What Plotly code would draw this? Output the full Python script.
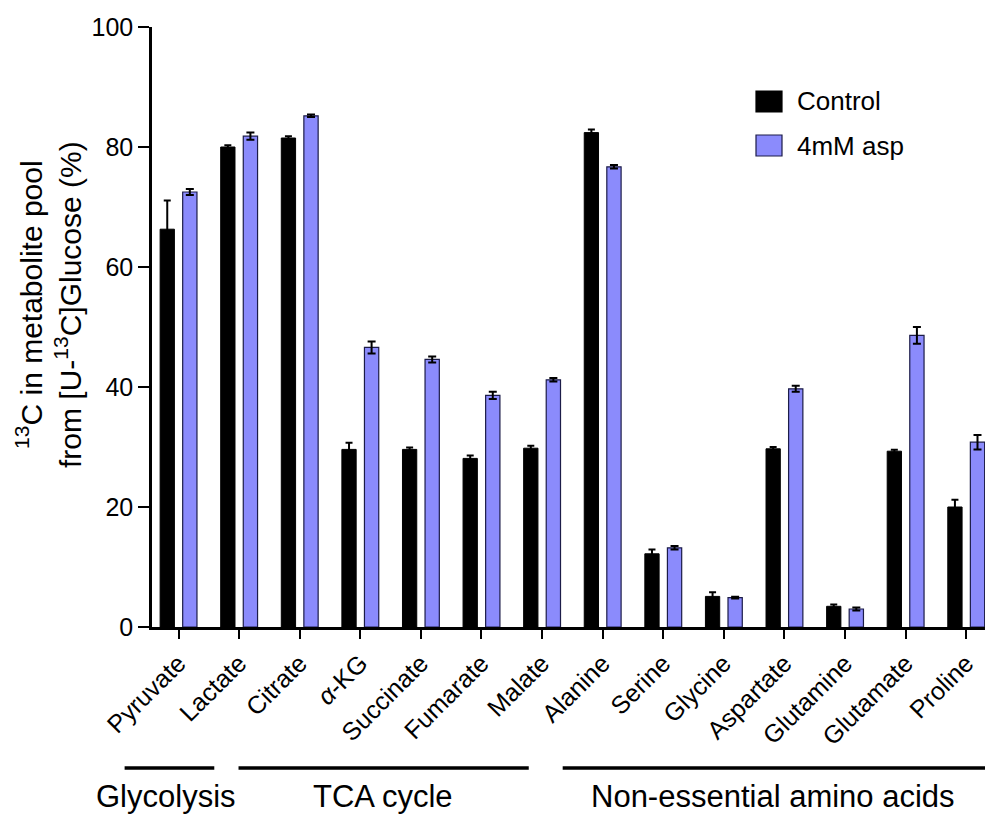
import plotly.graph_objects as go

# Metabolites measured
categories = ["Pyruvate", "Lactate", "Citrate", "<i>α</i>-KG", "Succinate", "Fumarate",
              "Malate", "Alanine", "Serine", "Glycine", "Aspartate", "Glutamine",
              "Glutamate", "Proline"]

# 13C enrichment (%) and SEM
control = [66.3, 80.0, 81.5, 29.6, 29.6, 28.1, 29.8, 82.4, 12.2, 5.1, 29.7, 3.45, 29.3, 20.0]
control_err = [4.8, 0.3, 0.3, 1.1, 0.3, 0.5, 0.4, 0.5, 0.7, 0.7, 0.3, 0.3, 0.25, 1.2]
asp = [72.5, 81.8, 85.2, 46.6, 44.6, 38.6, 41.2, 76.7, 13.2, 4.9, 39.7, 3.0, 48.6, 30.8]
asp_err = [0.5, 0.6, 0.2, 1.0, 0.5, 0.6, 0.3, 0.3, 0.3, 0.15, 0.5, 0.25, 1.4, 1.2]

# Pathway groups: label, span of the underline and label centre along the category axis
group_labels = ["Glycolysis", "TCA cycle", "Non-essential amino acids"]
group_spans = [(-0.89, 0.59), (0.99, 5.78), (6.34, 13.70)]
group_centres = [-0.2, 3.38, 9.81]

y_ticks = [0, 20, 40, 60, 80, 100]

FONT = "Arial, Liberation Sans, sans-serif"
BLUE = "#8B8BFC"
W, H = 985, 816
L, R, T, B = 152, 0, 27, 189
X_RANGE = [-0.438, 13.31]
PW, PH = W - L - R, H - T - B

x = list(range(len(categories)))

fig = go.Figure()
fig.add_trace(go.Bar(
    x=x, y=control, name="Control",
    marker=dict(color="black", line=dict(color="black", width=1)),
    error_y=dict(type="data", array=control_err, color="black", thickness=2, width=3.5),
    showlegend=False,
))
fig.add_trace(go.Bar(
    x=x, y=asp, name="4mM asp",
    marker=dict(color=BLUE, line=dict(color="#1c1c48", width=1.2)),
    error_y=dict(type="data", array=asp_err, color="black", thickness=2, width=4),
    showlegend=False,
))


def xpaper_px(px):
    return (px - L) / PW


def ypaper_px(py):
    return (H - B - py) / PH


def xpaper_data(v):
    return (v - X_RANGE[0]) / (X_RANGE[1] - X_RANGE[0])


shapes = []
annotations = []

# Pathway group bars and labels beneath the category labels
for label, (a, b), mid in zip(group_labels, group_spans, group_centres):
    shapes.append(dict(type="line", xref="paper", yref="paper",
                       x0=xpaper_data(a), x1=xpaper_data(b),
                       y0=ypaper_px(768), y1=ypaper_px(768),
                       line=dict(color="black", width=3.5)))
    annotations.append(dict(text=label, xref="paper", yref="paper",
                            x=xpaper_data(mid), y=ypaper_px(797),
                            xanchor="center", yanchor="middle", showarrow=False,
                            font=dict(family=FONT, size=31, color="black")))

# Legend drawn as swatches with labels
legend_items = [("Control", "black", "black"), ("4mM asp", BLUE, "#1c1c48")]
for i, (name, fill, edge) in enumerate(legend_items):
    top = 91 + i * 44
    shapes.append(dict(type="rect", xref="paper", yref="paper",
                       x0=xpaper_px(756), x1=xpaper_px(782),
                       y0=ypaper_px(top), y1=ypaper_px(top + 21),
                       fillcolor=fill, line=dict(color=edge, width=1.2)))
    annotations.append(dict(text=name, xref="paper", yref="paper",
                            x=xpaper_px(795), y=ypaper_px(top + 10.5),
                            xanchor="left", yanchor="middle", showarrow=False,
                            font=dict(family=FONT, size=26, color="black")))

# Y-axis title
annotations.append(dict(
    text="<sup>13</sup>C in metabolite pool<br>from [U-<sup>13</sup>C]Glucose (%)",
    xref="paper", yref="paper", x=xpaper_px(48), y=ypaper_px(305),
    xanchor="center", yanchor="middle", textangle=-90, showarrow=False,
    font=dict(family=FONT, size=30, color="black")))

fig.update_layout(
    width=W, height=H,
    margin=dict(l=L, r=R, t=T, b=B),
    paper_bgcolor="white", plot_bgcolor="white",
    barmode="group", bargap=0.255, bargroupgap=0.367,
    font=dict(family=FONT, color="black"),
    shapes=shapes, annotations=annotations,
    showlegend=False,
)
fig.update_xaxes(
    range=X_RANGE, tickmode="array", tickvals=x, ticktext=categories,
    tickangle=-45, tickfont=dict(family=FONT, size=25, color="black"),
    showline=True, linecolor="black", linewidth=2.5,
    ticks="outside", ticklen=9, tickwidth=2, tickcolor="black",
    showgrid=False, zeroline=False,
)
fig.update_yaxes(
    range=[0, 100], tickmode="array", tickvals=y_ticks,
    tickfont=dict(family=FONT, size=25, color="black"),
    showline=True, linecolor="black", linewidth=2.5,
    ticks="outside", ticklen=11, tickwidth=2, tickcolor="black",
    showgrid=False, zeroline=False,
)

fig.write_html("out.html")
